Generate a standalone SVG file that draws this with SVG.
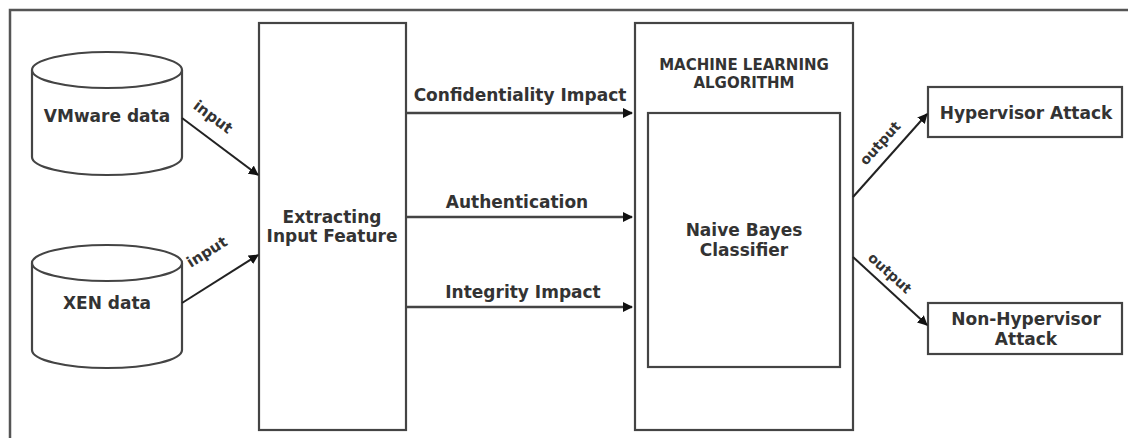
<svg xmlns="http://www.w3.org/2000/svg" width="1128" height="438" viewBox="0 0 1128 438">
<defs>
<style>
.box{fill:#fff;stroke:#444;stroke-width:2.2}
.frame{fill:none;stroke:#555;stroke-width:2.5}
.t{font-family:"DejaVu Sans",sans-serif;font-weight:bold;font-size:17px;fill:#333;text-anchor:middle}
.s{font-family:"DejaVu Sans",sans-serif;font-weight:bold;font-size:14px;fill:#333;text-anchor:middle;dominant-baseline:central}
.c{fill:none;stroke:#222;stroke-width:2;marker-end:url(#ah)}
.h{fill:none;stroke:#444;stroke-width:2.5;marker-end:url(#ah)}
</style>
<marker id="ah" viewBox="0 0 10 10" refX="9" refY="5" markerWidth="10" markerHeight="10" markerUnits="userSpaceOnUse" orient="auto">
<path d="M0,0 L10,5 L0,10 z" fill="#111"/>
</marker>
</defs>
<path class="frame" d="M10,438 L10,10 L1128,10"/>
<g id="vmware">
<path class="box" d="M32,70 L32,157 A75,18 0 0 0 182,157 L182,70"/>
<ellipse class="box" cx="107" cy="70" rx="75" ry="18"/>
<text class="t" x="107" y="122">VMware data</text>
</g>
<g id="xen">
<path class="box" d="M32,263 L32,350 A75,18 0 0 0 182,350 L182,263"/>
<ellipse class="box" cx="107" cy="263" rx="75" ry="18"/>
<text class="t" x="107" y="309">XEN data</text>
</g>
<g id="extract">
<rect class="box" x="259" y="23" width="147" height="407"/>
<text class="t" x="332" y="223">Extracting</text>
<text class="t" x="332" y="242">Input Feature</text>
</g>
<g id="ml">
<rect class="box" x="635" y="23" width="218" height="407"/>
<text class="t" x="744" y="70" style="font-size:15px">MACHINE LEARNING</text>
<text class="t" x="744" y="88" style="font-size:15px">ALGORITHM</text>
</g>
<g id="nb">
<rect class="box" x="648" y="113" width="192" height="254"/>
<text class="t" x="744" y="236">Naive Bayes</text>
<text class="t" x="744" y="256">Classifier</text>
</g>
<g id="hyp">
<rect class="box" x="928" y="87" width="194" height="50"/>
<text class="t" x="1026" y="119">Hypervisor Attack</text>
</g>
<g id="nonhyp">
<rect class="box" x="928" y="303" width="194" height="51"/>
<text class="t" x="1026" y="325">Non-Hypervisor</text>
<text class="t" x="1026" y="345">Attack</text>
</g>
<g id="connectors">
<line class="c" x1="182" y1="118" x2="258" y2="175"/>
<text class="s" transform="translate(213,117) rotate(37)" style="font-size:15px">input</text>
<line class="c" x1="182" y1="303" x2="258" y2="255"/>
<text class="s" transform="translate(207,252) rotate(-32)" style="font-size:15px">input</text>
<line class="h" x1="406" y1="113" x2="632" y2="113"/>
<text class="t" x="520" y="101">Confidentiality Impact</text>
<line class="h" x1="406" y1="217" x2="632" y2="217"/>
<text class="t" x="517" y="208">Authentication</text>
<line class="h" x1="406" y1="307" x2="632" y2="307"/>
<text class="t" x="523" y="298">Integrity Impact</text>
<line class="c" x1="853" y1="197" x2="927" y2="114"/>
<text class="s" transform="translate(880,143) rotate(-48)">output</text>
<line class="c" x1="853" y1="257" x2="927" y2="325"/>
<text class="s" transform="translate(890,273) rotate(42)">output</text>
</g>
</svg>
